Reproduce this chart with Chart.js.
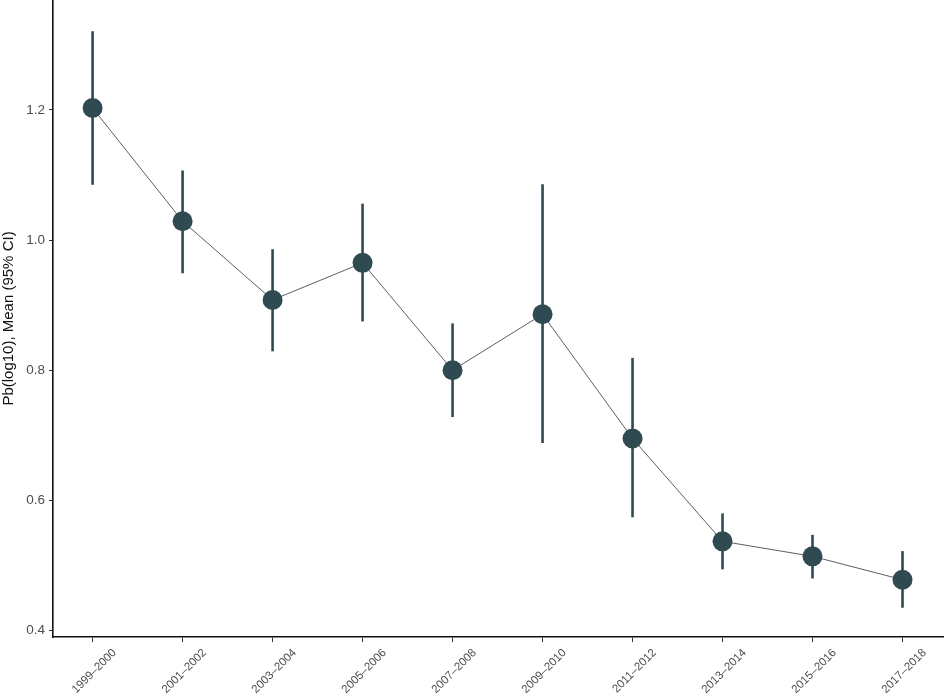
<!DOCTYPE html>
<html>
<head>
<meta charset="utf-8">
<script src="https://cdn.jsdelivr.net/npm/chart.js@4.4.0/dist/chart.umd.min.js"></script>
<style>
  html, body { margin: 0; padding: 0; background: #fff; }
  #wrap { width: 945px; height: 699px; }
</style>
</head>
<body>
<div id="wrap"><canvas id="chart1"></canvas></div>
<script>
const periods = ['1999\u20132000', '2001\u20132002', '2003\u20132004', '2005\u20132006', '2007\u20132008',
                 '2009\u20132010', '2011\u20132012', '2013\u20132014', '2015\u20132016', '2017\u20132018'];
const means = [1.203, 1.029, 0.908, 0.965, 0.800, 0.886, 0.695, 0.537, 0.514, 0.478];
const lower = [1.085, 0.949, 0.829, 0.875, 0.728, 0.688, 0.574, 0.494, 0.480, 0.435];
const upper = [1.321, 1.107, 0.986, 1.056, 0.872, 1.086, 0.819, 0.580, 0.547, 0.522];
const yTicks = [0.4, 0.6, 0.8, 1.0, 1.2];

const pointColor = '#2f4a51';

// vertical CI bars, drawn before the points
const errorBars = {
  id: 'errorBars',
  beforeDatasetsDraw(chart) {
    const ctx = chart.ctx;
    const xs = chart.scales.x, ys = chart.scales.y;
    ctx.save();
    ctx.strokeStyle = pointColor;
    ctx.lineWidth = 2.6;
    for (let i = 0; i < means.length; i++) {
      const px = xs.getPixelForValue(i);
      ctx.beginPath();
      ctx.moveTo(px, ys.getPixelForValue(lower[i]));
      ctx.lineTo(px, ys.getPixelForValue(upper[i]));
      ctx.stroke();
    }
    ctx.restore();
  }
};

const ctx1 = document.getElementById('chart1').getContext('2d');
new Chart(ctx1, {
  type: 'line',
  data: {
    datasets: [{
      data: means.map((m, i) => ({ x: i, y: m })),
      borderColor: '#5a5f60',
      borderWidth: 1,
      pointRadius: 10,
      pointHoverRadius: 10,
      pointBackgroundColor: pointColor,
      pointBorderColor: pointColor,
      pointBorderWidth: 0,
      tension: 0,
      clip: false
    }]
  },
  plugins: [errorBars],
  options: {
    responsive: true,
    maintainAspectRatio: false,
    animation: false,
    layout: { autoPadding: false, padding: { top: 0, right: 2, left: 0, bottom: 0 } },
    plugins: { legend: { display: false }, tooltip: { enabled: false } },
    scales: {
      x: {
        type: 'linear',
        min: -0.44,
        max: 9.45,
        afterBuildTicks: s => { s.ticks = periods.map((p, i) => ({ value: i })); },
        afterFit: s => { s.height = 62; s.paddingLeft = 0; s.paddingRight = 0; },
        ticks: {
          callback: v => periods[v],
          minRotation: 45,
          maxRotation: 45,
          labelOffset: 22,
          color: '#4d4d4d',
          font: { family: 'Liberation Sans', size: 11.5 },
          padding: 4
        },
        grid: { drawOnChartArea: false, tickLength: 5, color: '#333', tickWidth: 1 },
        border: { color: '#111', width: 1.6 }
      },
      y: {
        min: 0.39,
        max: 1.369,
        afterBuildTicks: s => { s.ticks = yTicks.map(v => ({ value: v })); },
        afterFit: s => { s.width = 53; s.paddingTop = 0; s.paddingBottom = 0; },
        ticks: {
          callback: v => v.toFixed(1),
          color: '#4d4d4d',
          font: { family: 'Liberation Sans', size: 13.5 },
          padding: 4
        },
        grid: { drawOnChartArea: false, tickLength: 4, color: '#333', tickWidth: 1 },
        border: { color: '#111', width: 1.6 },
        title: {
          display: true,
          text: 'Pb(log10), Mean (95% CI)',
          color: '#111',
          font: { family: 'Liberation Sans', size: 15 },
          padding: { top: 0, bottom: 2 }
        }
      }
    }
  }
});
</script>
</body>
</html>
